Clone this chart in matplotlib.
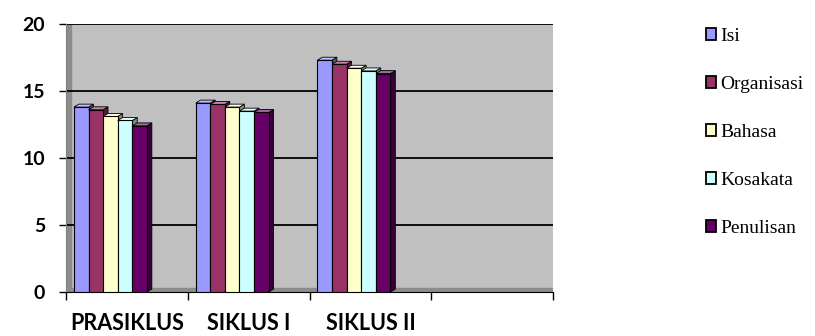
import matplotlib
matplotlib.use("Agg")
import matplotlib.pyplot as plt
import matplotlib.colors as mcolors
import numpy as np

categories = ["PRASIKLUS", "SIKLUS I", "SIKLUS II"]
series = ["Isi", "Organisasi", "Bahasa", "Kosakata", "Penulisan"]
isi = [13.8, 14.1, 17.3]
organisasi = [13.6, 14.0, 17.0]
bahasa = [13.1, 13.8, 16.7]
kosakata = [12.8, 13.5, 16.5]
penulisan = [12.4, 13.4, 16.3]
colors = ["#9999ff", "#993366", "#ffffcc", "#ccffff", "#660066"]

values = [isi, organisasi, bahasa, kosakata, penulisan]

fig = plt.figure(figsize=(8.15, 3.36), dpi=100)
ax = fig.add_axes([66 / 815, 1 - 292 / 336, (553 - 66) / 815, (292 - 24) / 336])

ax.set_facecolor("#c0c0c0")
ax.set_xlim(-0.5, 3.5)
ax.set_ylim(0, 20)

# walls / floor of the fake 3D box
ax.axvspan(-0.5, -0.46, color="#8c8c8c", zorder=1)
ax.axhspan(0, 0.3, color="#8c8c8c", zorder=1)

for y in [5, 10, 15, 20]:
    ax.axhline(y, color="black", linewidth=1.3, zorder=1.5)

bar_w = 0.12
dx, dy = 0.04, 0.22
n = len(series)
x = np.arange(len(categories))
group_left = x - 0.135 - n * bar_w / 2

z = 2
for i in range(len(categories)):
    for j in range(n):
        c = colors[j]
        v = values[j][i]
        x0 = group_left[i] + j * bar_w
        rgb = np.array(mcolors.to_rgb(c))
        side = rgb * 0.55
        top = 1 - (1 - rgb) * 0.6
        ax.fill([x0 + bar_w, x0 + bar_w + dx, x0 + bar_w + dx, x0 + bar_w],
                [0, dy, v + dy, v], color=side, edgecolor="black",
                linewidth=0.6, zorder=z)
        ax.fill([x0, x0 + dx, x0 + bar_w + dx, x0 + bar_w],
                [v, v + dy, v + dy, v], color=top, edgecolor="black",
                linewidth=0.6, zorder=z)
        ax.bar(x0, v, width=bar_w, align="edge", color=c, edgecolor="black",
               linewidth=0.8, zorder=z + 0.5,
               label=series[j] if i == 0 else None)
        z += 1

for s in ["top", "right"]:
    ax.spines[s].set_visible(False)
ax.spines["left"].set_color("#808080")
ax.spines["bottom"].set_color("black")

ax.set_yticks([0, 5, 10, 15, 20])
ax.set_yticklabels(["0", "5", "10", "15", "20"], fontsize=14,
                   fontweight="bold", family="Lato")
ax.tick_params(axis="y", length=5, width=1, color="black", pad=10)

ax.set_xticks(np.arange(-0.5, 3.6, 1.0))
ax.set_xticklabels([])
ax.tick_params(axis="x", which="major", length=6, width=1, direction="out")
ax.set_xticks(x, minor=True)
ax.set_xticklabels(categories, minor=True, fontsize=15.5, fontweight="bold",
                   family="Lato")
ax.tick_params(axis="x", which="minor", length=0, pad=15)

handles, labels = ax.get_legend_handles_labels()
fig.legend(handles, labels, loc="upper left", bbox_to_anchor=(0.866, 0.918),
           frameon=False, prop={"family": "Liberation Serif", "size": 14},
           handlelength=0.55, handleheight=0.55, handletextpad=0.2,
           labelspacing=1.6, borderpad=0, borderaxespad=0)
for h in fig.legends[0].legend_handles:
    h.set_linewidth(1.3)

fig.savefig("out.png", dpi=100)
